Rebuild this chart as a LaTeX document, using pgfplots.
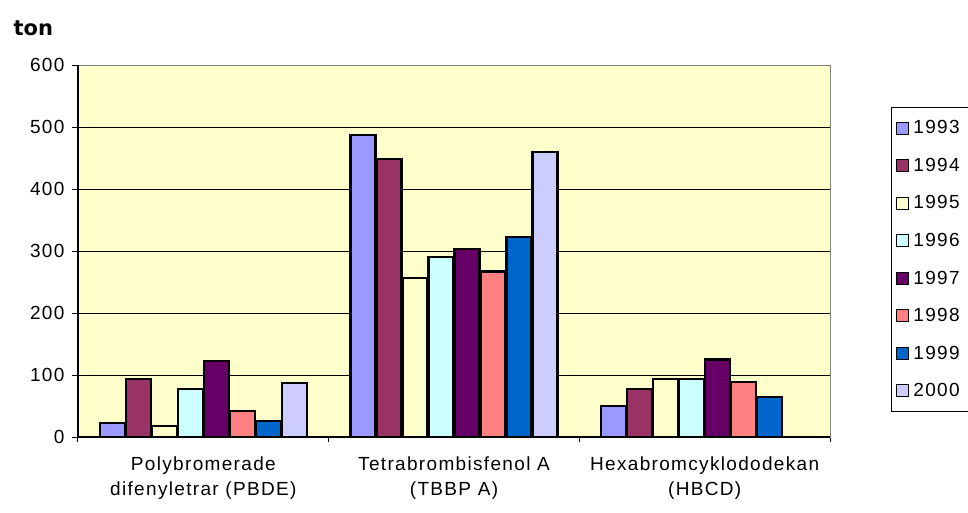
\documentclass[border=0pt]{standalone}
\usepackage{fontspec}
\setmainfont{Liberation Sans}[LetterSpace=7]
\newfontfamily\tonfont{DejaVu Sans}
\usepackage{pgfplots}
\pgfplotsset{compat=1.18}

\definecolor{bgy}{HTML}{FFFFCC}
\definecolor{cA}{HTML}{9999FF}
\definecolor{cB}{HTML}{993366}
\definecolor{cC}{HTML}{FFFFCC}
\definecolor{cD}{HTML}{CCFFFF}
\definecolor{cE}{HTML}{660066}
\definecolor{cF}{HTML}{FF8080}
\definecolor{cG}{HTML}{0066CC}
\definecolor{cH}{HTML}{CCCCFF}
\newcommand\yr[1]{\makebox[64pt][l]{#1}}

\begin{document}
\begin{tikzpicture}[x=1pt,y=1pt]
\begin{axis}[
    at={(0,0)}, anchor=south west,
    scale only axis, width=752pt, height=372pt,
    xmin=0, xmax=3, ymin=0, ymax=600,
    ybar=1pt, bar width=25pt,
    axis background/.style={fill=bgy},
    axis line style={draw=gray, line width=0.8pt},
    ymajorgrids, grid style={black, line width=1pt},
    ytick={0,100,...,600},
    xtick={0.5,1.5,2.5},
    xticklabels={{Polybromerade\\difenyletrar (PBDE)},{Tetrabrombisfenol A\\(TBBP A)},{Hexabromcyklododekan\\(HBCD)}},
    minor xtick={0,1,2,3},
    major x tick style={draw=none},
    tick style={black, line width=1pt},
    major tick length=6pt, minor tick length=5pt,
    tick align=outside, tick pos=left,
    tick label style={font=\fontsize{19}{25}\selectfont},
    xticklabel style={align=center, yshift=-10pt},
    yticklabel style={xshift=-4pt},
    /pgf/number format/assume math mode=true,
    legend style={at={(1.081,0.887)}, anchor=north west, draw=black, line width=1pt,
        fill=white, font=\fontsize{19}{22}\selectfont, row sep=18.8pt,
        inner xsep=3pt, inner ysep=11pt},
    legend cell align=left,
    legend image code/.code={\draw[#1, line width=0.8pt] (2pt,-6pt) rectangle (14pt,6pt);
        \path[draw=none, fill=none] (0pt,0pt) -- (17pt,0pt);},
    clip=false,
]
\addplot[fill=cA, draw=black, line width=2.2pt] coordinates {(0.5,22) (1.5,487) (2.5,50)};
\addplot[fill=cB, draw=black, line width=2.2pt] coordinates {(0.5,93) (1.5,448) (2.5,77)};
\addplot[fill=cC, draw=black, line width=2.2pt] coordinates {(0.5,18) (1.5,257) (2.5,93)};
\addplot[fill=cD, draw=black, line width=2.2pt] coordinates {(0.5,77) (1.5,290) (2.5,93)};
\addplot[fill=cE, draw=black, line width=2.2pt] coordinates {(0.5,122) (1.5,303) (2.5,125)};
\addplot[fill=cF, draw=black, line width=2.2pt] coordinates {(0.5,42) (1.5,267) (2.5,89)};
\addplot[fill=cG, draw=black, line width=2.2pt] coordinates {(0.5,26) (1.5,323) (2.5,64)};
\addplot[fill=cH, draw=black, line width=2.2pt] coordinates {(0.5,87) (1.5,460)};
\legend{\yr{1993},\yr{1994},\yr{1995},\yr{1996},\yr{1997},\yr{1998},\yr{1999},\yr{2000}}
\draw[black, line width=1.5pt] (rel axis cs:0,1) -- (rel axis cs:0,0) -- (rel axis cs:1,0);
\node[anchor=west, font=\tonfont\bfseries\fontsize{21}{22}\selectfont] at (rel axis cs:-0.0904,1.0995) {ton};
\end{axis}
\pgfresetboundingbox
\path[use as bounding box] (-78pt,-75pt) rectangle (890pt,437pt);
\end{tikzpicture}
\end{document}
